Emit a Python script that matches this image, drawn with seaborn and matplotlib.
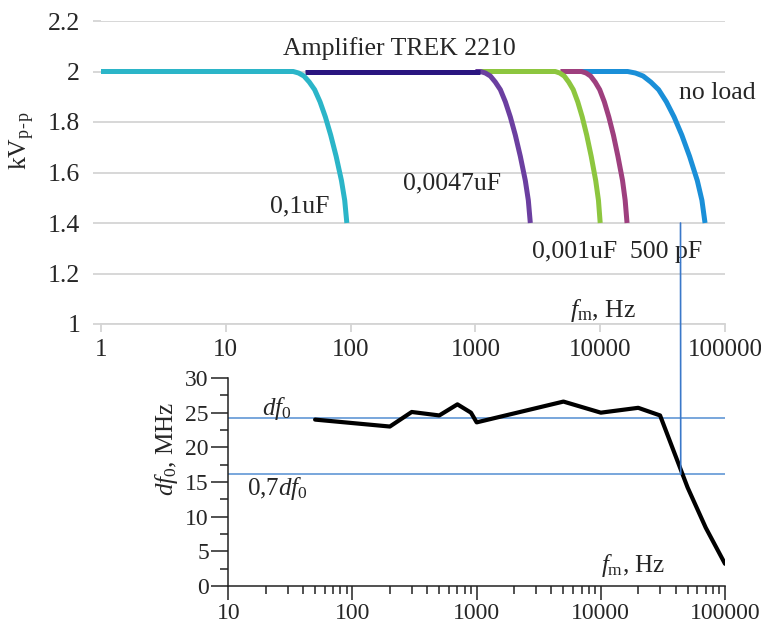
import numpy as np
import pandas as pd
import seaborn as sns
import matplotlib.pyplot as plt
from matplotlib.patches import ConnectionPatch
from matplotlib.ticker import LogLocator, NullFormatter, MultipleLocator

# Top panel: output voltage vs modulation frequency for each load
levels = [2.0, 2.0, 1.994, 1.982, 1.958, 1.928, 1.88, 1.82, 1.748, 1.664, 1.568, 1.49, 1.4]
f_01uF = [1, 34.7, 38.3, 42.3, 46.7, 51.5, 56.9, 62.8, 69.3, 76.6, 84.5, 89.7, 93.3]
f_0047uF = [1000, 1096, 1202, 1318, 1445, 1585, 1738, 1905, 2089, 2291, 2512, 2655, 2754]
f_0001uF = [1100, 4365, 4742, 5152, 5598, 6081, 6607, 7178, 7798, 8472, 9204, 9683, 10000]
f_500pF = [4800, 7079, 7709, 8375, 9120, 9908, 10789, 11722, 12764, 13868, 15101, 15849, 16406]
f_noload = [6900, 16596, 19143, 22080, 25468, 29376, 33884, 39084, 45082, 52000, 59979, 65313, 69183]
f_flat = [43, 1090]
v_flat = [2.0, 2.0]

# Bottom panel: df0 vs fm
fm = [50, 200, 300, 500, 700, 900, 1000, 5000, 10000, 20000, 30000, 50000, 70000, 100000]
df0 = [24.0, 23.0, 25.1, 24.6, 26.2, 25.0, 23.6, 26.6, 25.0, 25.7, 24.6, 14.2, 8.4, 3.2]
df0_level = 24.3
df0_07 = 16.1
f_cross = 44000

top_ticks = [1, 10, 100, 1000, 10000, 100000]
bot_ticks = [10, 100, 1000, 10000, 100000]

sns.set_style("white")
plt.rcParams['font.family'] = ['Liberation Serif', 'DejaVu Serif']
plt.rcParams['mathtext.fontset'] = 'custom'
plt.rcParams['mathtext.rm'] = 'Liberation Serif'
plt.rcParams['mathtext.it'] = 'Liberation Serif:italic'

fig = plt.figure(figsize=(7.61, 6.25), dpi=100)
ax1 = fig.add_axes([0.1327, 0.4816, 0.8200, 0.4848])
ax2 = fig.add_axes([0.3000, 0.0624, 0.6527, 0.3328])

grid_c = '#d4d4d4'
# drawn back to front
series = [
    (f_noload, levels, '#1a8fd8'),
    (f_500pF, levels, '#9e3f7e'),
    (f_0001uF, levels, '#8dc63f'),
    (f_0047uF, levels, '#6b3fa0'),
    (f_flat, v_flat, '#2a1580'),
    (f_01uF, levels, '#2bb5c8'),
]
for xs, ys, c in series:
    sns.lineplot(x=xs, y=ys, ax=ax1, color=c, lw=3.6, sort=False,
                 estimator=None, solid_capstyle='butt', solid_joinstyle='round')

ax1.set_xscale('log')
ax1.set_xlim(1, 100000)
ax1.set_ylim(1, 2.2)
ax1.set_xticks(top_ticks)
ax1.set_xticklabels([str(t) for t in top_ticks])
ax1.xaxis.set_minor_locator(plt.NullLocator())
ax1.set_yticks([1, 1.2, 1.4, 1.6, 1.8, 2, 2.2])
ax1.set_yticklabels(['1', '1.2', '1.4', '1.6', '1.8', '2', '2.2'])
ax1.yaxis.grid(True, color=grid_c, lw=1.3)
ax1.xaxis.grid(False)
ax1.set_axisbelow(True)
for s in ['top', 'right', 'left']:
    ax1.spines[s].set_visible(False)
ax1.spines['bottom'].set_color(grid_c)
ax1.spines['bottom'].set_linewidth(1.3)
ax1.tick_params(axis='x', which='major', bottom=True, length=6, width=1.3,
                color=grid_c, labelsize=18, pad=5)
ax1.tick_params(axis='y', which='major', left=True, length=6, width=1.3,
                color=grid_c, labelsize=18.5, pad=9)
ax1.set_xlabel('')
ax1.set_ylabel('')

fig.text(22 / 761, 1 - 141 / 625, r'kV$_\mathrm{p}$$_\text{-}$$_\mathrm{p}$', rotation=90,
         ha='center', va='center', fontsize=18.5)

tk = dict(fontsize=18.5)
ax1.text(28.6, 2.091, 'Amplifier TREK 2210', ha='left', va='center', **tk)
ax1.text(68, 1.465, '0,1uF', ha='right', va='center', **tk)
ax1.text(261, 1.558, '0,0047uF', ha='left', va='center', **tk)
ax1.text(2825, 1.287, '0,001uF', ha='left', va='center', **tk)
ax1.text(17300, 1.287, '500 pF', ha='left', va='center', **tk)
ax1.text(42800, 1.915, 'no load', ha='left', va='center', **tk)
ax1.text(5730, 1.053, r'$f_\mathrm{m}$, Hz', ha='left', va='center', **tk)

# Bottom panel
blue_h = '#6d9fd9'
ax2.plot([10, 100000], [df0_level, df0_level], color=blue_h, lw=1.3, zorder=1)
ax2.plot([10, 100000], [df0_07, df0_07], color=blue_h, lw=1.3, zorder=1)
sns.lineplot(x=fm, y=df0, ax=ax2, color='black', lw=3.0, sort=False,
             estimator=None, zorder=3)

ax2.set_xscale('log')
ax2.set_xlim(10, 100000)
ax2.set_ylim(0, 30)
ax2.set_xticks(bot_ticks)
ax2.set_xticklabels([str(t) for t in bot_ticks])
ax2.xaxis.set_minor_locator(LogLocator(base=10, subs=np.arange(2, 10)))
ax2.xaxis.set_minor_formatter(NullFormatter())
ax2.yaxis.set_major_locator(MultipleLocator(5))
ax2.yaxis.set_minor_locator(MultipleLocator(2.5))
for s in ['top', 'right']:
    ax2.spines[s].set_visible(False)
for s in ['left', 'bottom']:
    ax2.spines[s].set_color('#222222')
    ax2.spines[s].set_linewidth(1.1)
ax2.tick_params(axis='x', which='major', bottom=True, length=10, width=1.1,
                color='#222222', labelsize=17, pad=2)
ax2.tick_params(axis='x', which='minor', bottom=True, length=5.5, width=1.1,
                color='#222222')
ax2.tick_params(axis='y', which='major', left=True, length=12, width=1.1,
                color='#222222', labelsize=17, pad=2)
ax2.tick_params(axis='y', which='minor', left=True, length=6, width=1.1,
                color='#222222')
ax2.grid(False)
ax2.set_xlabel('')
ax2.set_ylabel('')

fig.text(167 / 761, 1 - 448.5 / 625, r'$df_\mathrm{0}$, MHz', rotation=90,
         ha='center', va='center', fontsize=18)
ax2.text(18.7, 24.6, r'$df_\mathrm{0}$', ha='left', va='baseline', fontsize=18)
ax2.text(14.1, 14.0, r'0,7$df_\mathrm{0}$', ha='left', va='center', fontsize=18)
ax2.text(10000, 2.9, r'$f_\mathrm{m}$, Hz', ha='left', va='center', fontsize=18)

con = ConnectionPatch(xyA=(f_cross, 1.4), coordsA=ax1.transData,
                      xyB=(f_cross, df0_07), coordsB=ax2.transData,
                      color='#3a78c9', lw=1.2)
fig.add_artist(con)

fig.savefig('out.png', dpi=100)
